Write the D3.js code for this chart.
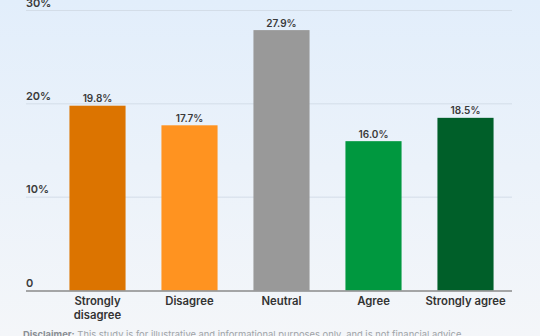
<!DOCTYPE html>
<html>
<head>
<meta charset="utf-8">
<script src="https://cdn.jsdelivr.net/npm/d3@7/dist/d3.min.js"></script>
<style>
  html, body { margin: 0; padding: 0; }
  body { width: 540px; height: 336px; overflow: hidden; }
  svg { display: block; font-family: Inter, "Noto Sans", sans-serif; }
</style>
</head>
<body>
<svg id="chart" width="540" height="336"></svg>
<script>
// Survey responses: share of respondents per answer
const categories = ["Strongly disagree", "Disagree", "Neutral", "Agree", "Strongly agree"];
const categoryLines = [["Strongly", "disagree"], ["Disagree"], ["Neutral"], ["Agree"], ["Strongly agree"]];
const shares = [19.8, 17.7, 27.9, 16.0, 18.5];
const barColors = ["#dc7400", "#ff9320", "#999999", "#00983f", "#005f29"];
const yTicks = [0, 10, 20, 30];
const yTickLabels = ["0", "10%", "20%", "30%"];

const W = 540, H = 336;
const svg = d3.select("#chart");

// soft blue-to-grey background
const defs = svg.append("defs");
const grad = defs.append("linearGradient").attr("id", "bg").attr("x1", 0).attr("y1", 0).attr("x2", 0).attr("y2", 1);
grad.append("stop").attr("offset", "0%").attr("stop-color", "#e2eefb");
grad.append("stop").attr("offset", "100%").attr("stop-color", "#f4f6f9");
svg.append("rect").attr("width", W).attr("height", H).attr("fill", "url(#bg)");

const plotLeft = 26, plotRight = 512;
const x = d3.scaleBand().domain(categories).range([51.5, 511.5]).paddingInner(0.39).paddingOuter(0.195);
const y = d3.scaleLinear().domain([0, 30]).range([290.5, 10.5]);

// gridlines with labels sitting above them
const grid = svg.append("g");
grid.selectAll("line").data(yTicks.filter(t => t > 0)).join("line")
  .attr("x1", plotLeft).attr("x2", plotRight)
  .attr("y1", d => y(d)).attr("y2", d => y(d))
  .attr("stroke", "#d3dde8").attr("stroke-width", 1);
grid.selectAll("text").data(yTicks).join("text")
  .attr("x", plotLeft).attr("y", d => y(d) - 4)
  .attr("font-size", 11).attr("font-weight", 600).attr("fill", "#3a3a3a")
  .text((d, i) => yTickLabels[i]);

// bars
svg.append("g").selectAll("rect").data(shares).join("rect")
  .attr("x", (d, i) => x(categories[i]))
  .attr("width", x.bandwidth())
  .attr("y", d => y(d))
  .attr("height", d => y(0) - y(d))
  .attr("fill", (d, i) => barColors[i]);

// value labels
svg.append("g").selectAll("text").data(shares).join("text")
  .attr("x", (d, i) => x(categories[i]) + x.bandwidth() / 2)
  .attr("y", d => y(d) - 3.5)
  .attr("text-anchor", "middle")
  .attr("font-size", 10).attr("font-weight", 600).attr("fill", "#3a3a3a")
  .text(d => d.toFixed(1) + "%");

// baseline
svg.append("line")
  .attr("x1", plotLeft).attr("x2", plotRight)
  .attr("y1", y(0) + 0.5).attr("y2", y(0) + 0.5)
  .attr("stroke", "#8a8a8a").attr("stroke-width", 1.5);

// category labels
const cat = svg.append("g").selectAll("text").data(categories).join("text")
  .attr("x", d => x(d) + x.bandwidth() / 2)
  .attr("y", 305)
  .attr("text-anchor", "middle")
  .attr("font-size", 11.3).attr("font-weight", 600).attr("fill", "#333333");
cat.each(function(d, i) {
  d3.select(this).selectAll("tspan").data(categoryLines[i]).join("tspan")
    .attr("x", x(d) + x.bandwidth() / 2)
    .attr("dy", (t, j) => j === 0 ? 0 : 13.5)
    .text(t => t);
});

// disclaimer
const disc = svg.append("text").attr("x", 23).attr("y", 338)
  .attr("font-size", 9.4).attr("fill", "#a0a4a8");
disc.append("tspan").attr("font-weight", 700).attr("fill", "#8a8e93").text("Disclaimer:");
disc.append("tspan").text(" This study is for illustrative and informational purposes only, and is not financial advice.");
</script>
</body>
</html>
